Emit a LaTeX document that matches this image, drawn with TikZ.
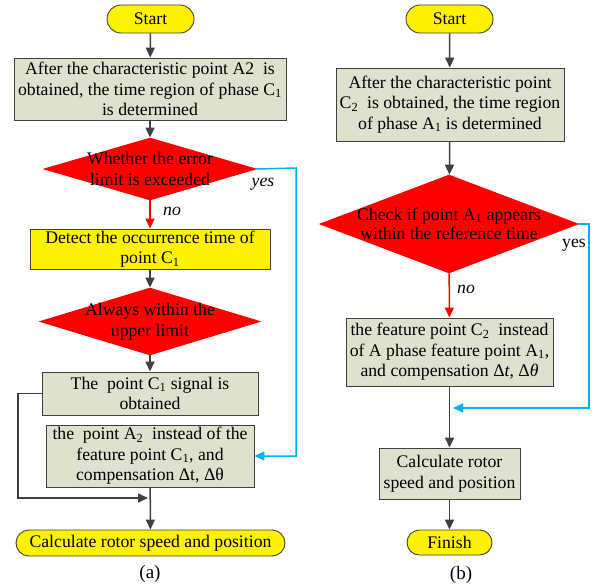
\documentclass[tikz,border=0pt]{standalone}
\usepackage{fontspec}
\setmainfont{Liberation Serif}
\usetikzlibrary{arrows.meta,shapes.geometric}
\definecolor{boxgray}{RGB}{221,225,206}
\definecolor{linegray}{RGB}{64,64,64}
\definecolor{cyanline}{RGB}{0,176,240}
\tikzset{
 base/.style={draw=linegray, line width=0.9pt, inner sep=0pt, font=\fontsize{17.7}{20.5}\selectfont, align=center},
 graybox/.style={base, rectangle, fill=boxgray},
 yelbox/.style={base, rectangle, fill=yellow},
 term/.style={base, rectangle, fill=yellow},
 decide/.style={base, diamond, fill=red, draw=red},
 dtext/.style={font=\fontsize{17.7}{20.5}\selectfont, align=center, inner sep=0pt},
 arr/.style={draw=linegray, line width=1.5pt, -{Triangle[length=10pt,width=9pt]}},
 redarr/.style={arr, draw=red},
 bluearr/.style={arr, draw=cyanline},
 lbl/.style={font=\fontsize{17.7}{20}\selectfont\itshape, inner sep=0pt},
 lblup/.style={font=\fontsize{17.7}{20}\selectfont, inner sep=0pt},
 capt/.style={font=\fontsize{19}{21}\selectfont, inner sep=0pt},
}
\begin{document}
\begin{tikzpicture}[x=1pt,y=-1pt]
\useasboundingbox (0,0) rectangle (599,583);
% ---------- (a) ----------
\node[term, rounded corners=14pt, minimum width=87pt, minimum height=28pt] (as) at (150.5,19) {Start};
\node[graybox, minimum width=272pt, minimum height=62pt] (ab1) at (150,89)
 {After the characteristic point A2\ \ is\\obtained, the time region of phase C\textsubscript{1}\\is determined};
\node[decide, minimum width=212pt, minimum height=62pt] (ad1) at (150,169) {};
\node[dtext] (ad1t) at (ad1.center) {Whether the error\\limit is exceeded};
\node[yelbox, minimum width=240pt, minimum height=40pt] (ab2) at (150,249)
 {Detect the occurrence time of\\point C\textsubscript{1}};
\node[decide, minimum width=220pt, minimum height=67pt] (ad2) at (150,321.5) {};
\node[dtext] (ad2t) at (ad2.center) {Always within the\\upper limit};
\node[graybox, minimum width=216pt, minimum height=43pt] (ab3) at (150,393.5)
 {The\ \ point C\textsubscript{1} signal is\\obtained};
\node[graybox, minimum width=208pt, minimum height=62pt] (ab4) at (150,456)
 {the\ \ point A\textsubscript{2}\ \ instead of the\\feature point C\textsubscript{1}, and\\compensation Δt, Δθ};
\node[term, rounded corners=13pt, minimum width=269pt, minimum height=26pt] (aend) at (150.5,543)
 {Calculate rotor speed and position};
\node[capt] (acap) at (150,574) {(a)};
\node[lbl] (ayes) at (263,184) {yes};
\node[lbl] (ano) at (172,211) {no};
\coordinate (aleft) at (18,498);
\coordinate (amerge) at (148,498);
\coordinate (aright) at (296,168);

\draw[arr] (as) -- (ab1);
\draw[arr] (ab1) -- (ad1);
\draw[redarr] (ad1) -- (ab2);
\draw[arr] (ab2) -- (ad2);
\draw[arr] (ad2) -- (ab3);
\draw[arr] (ab4) -- (aend);
\draw[arr] (ab3.west) -| (aleft) -- (amerge);
\draw[bluearr] (ad1.east) -- (aright) |- (ab4.east);

% ---------- (b) ----------
\node[term, rounded corners=14pt, minimum width=87pt, minimum height=28pt] (bs) at (449.5,19) {Start};
\node[graybox, minimum width=228pt, minimum height=73pt] (bb1) at (450,104.5)
 {After the characteristic point\\C\textsubscript{2}\ \ is obtained, the time region\\of phase A\textsubscript{1} is determined};
\node[decide, minimum width=258pt, minimum height=98pt] (bd) at (449,224) {};
\node[dtext, font=\fontsize{17.7}{19.5}\selectfont] (bdt) at (bd.center) {Check if point A\textsubscript{1} appears\\within the reference time};
\node[graybox, minimum width=207pt, minimum height=68pt] (bb2) at (449.5,352)
 {the feature point C\textsubscript{2}\ \ instead\\of A phase feature point A\textsubscript{1},\\and compensation Δ\textit{t}, Δ\textit{θ}};
\node[graybox, minimum width=141pt, minimum height=51pt] (bb3) at (449.5,473.5)
 {Calculate rotor\\speed and position};
\node[term, rounded corners=12.5pt, minimum width=85pt, minimum height=25pt] (bend) at (449.5,542.5) {Finish};
\node[capt] (bcap) at (461,575) {(b)};
\node[lblup] (byes) at (574,245) {yes};
\node[lbl] (bno) at (466,289) {no};
\coordinate (bright) at (589,224);
\coordinate (bmerge) at (453,408);

\draw[arr] (bs) -- (bb1);
\draw[arr] (bb1) -- (bd);
\draw[redarr] (bd) -- (bb2);
\draw[arr] (bb2) -- (bb3);
\draw[arr] (bb3) -- (bend);
\draw[bluearr] (bd.east) -- (bright) |- (bmerge);
\end{tikzpicture}
\end{document}
